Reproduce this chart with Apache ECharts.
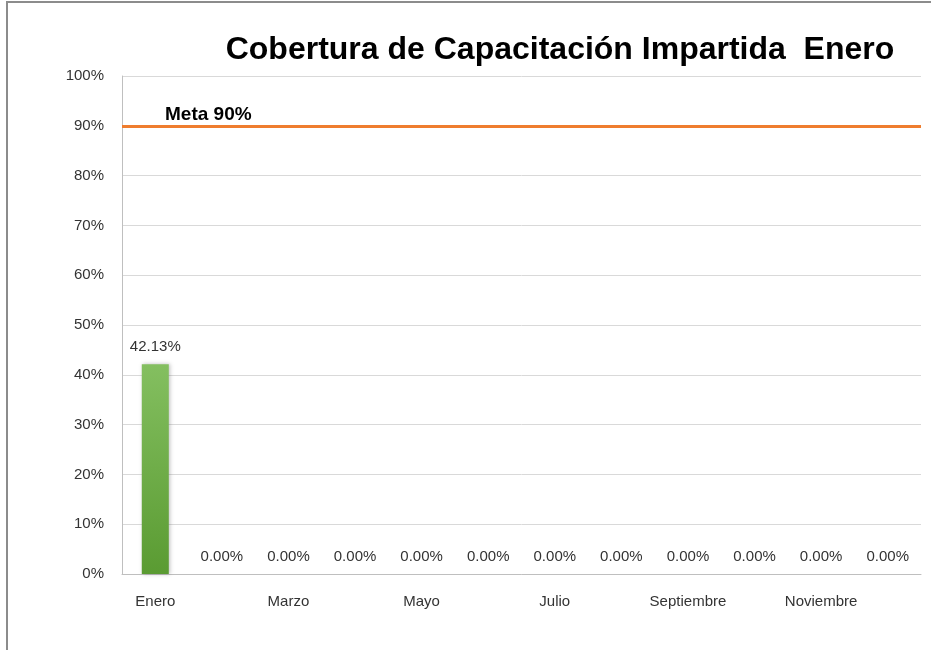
<!DOCTYPE html>
<html>
<head>
<meta charset="utf-8">
<script src="https://cdn.jsdelivr.net/npm/echarts@6/dist/echarts.min.js"></script>
<style>
  html, body { margin: 0; padding: 0; background: #fff; }
  #chart { width: 931px; height: 650px; }
  .marco {
    position: absolute; left: 6px; top: 1px; right: 0; bottom: 0;
    border-top: 2px solid #8c8c8c; border-left: 2px solid #8c8c8c;
    pointer-events: none;
  }
</style>
</head>
<body>
<div id="chart"></div>
<div class="marco"></div>
<script>
  // meses y cobertura (%)
  var meses = ['Enero','Febrero','Marzo','Abril','Mayo','Junio','Julio','Agosto','Septiembre','Octubre','Noviembre','Diciembre'];
  var cobertura = [42.13, 0, 0, 0, 0, 0, 0, 0, 0, 0, 0, 0];
  var meta = 90;
  var ticksY = [0, 10, 20, 30, 40, 50, 60, 70, 80, 90, 100];

  var myChart = echarts.init(document.getElementById('chart'));
  var option = {
    animation: false,
    title: {
      text: 'Cobertura de Capacitación Impartida  Enero',
      left: 555,
      textAlign: 'center',
      top: 29,
      textStyle: {
        fontFamily: '"Liberation Sans", sans-serif',
        fontSize: 32,
        fontWeight: 'bold',
        color: '#000'
      }
    },
    grid: { left: 122, right: 10, top: 76, bottom: 76 },
    xAxis: {
      type: 'category',
      data: meses,
      axisLine: { lineStyle: { color: '#bfbfbf', width: 1 } },
      axisTick: { show: false },
      axisLabel: {
        interval: 1,
        margin: 20,
        color: '#333',
        fontSize: 15,
        fontFamily: '"Liberation Sans", sans-serif'
      }
    },
    yAxis: {
      type: 'value',
      min: ticksY[0],
      max: ticksY[ticksY.length - 1],
      interval: 10,
      axisLine: { show: true, lineStyle: { color: '#bfbfbf', width: 1 } },
      axisTick: { show: false },
      splitLine: { lineStyle: { color: '#d9d9d9', width: 1 } },
      axisLabel: {
        margin: 18,
        color: '#333',
        fontSize: 15,
        fontFamily: '"Liberation Sans", sans-serif',
        formatter: '{value}%'
      }
    },
    series: [{
      name: 'Cobertura',
      type: 'bar',
      data: cobertura,
      barWidth: 27,
      itemStyle: {
        color: new echarts.graphic.LinearGradient(0, 0, 0, 1, [
          { offset: 0, color: '#84bf60' },
          { offset: 1, color: '#5a9b32' }
        ]),
        shadowBlur: 4,
        shadowColor: 'rgba(0,0,0,0.25)',
        shadowOffsetX: 1
      },
      label: {
        show: true,
        position: 'top',
        distance: 10,
        color: '#333',
        fontSize: 15,
        fontFamily: '"Liberation Sans", sans-serif',
        formatter: function (p) { return p.value.toFixed(2) + '%'; }
      },
      markLine: {
        silent: true,
        symbol: 'none',
        lineStyle: { color: '#ef7d2e', width: 3, type: 'solid' },
        label: {
          position: 'insideStartTop',
          distance: [43, 2],
          formatter: 'Meta 90%',
          color: '#000',
          fontSize: 19,
          fontWeight: 'bold',
          fontFamily: '"Liberation Sans", sans-serif'
        },
        data: [{ yAxis: meta }]
      }
    }]
  };
  myChart.setOption(option);
</script>
</body>
</html>
